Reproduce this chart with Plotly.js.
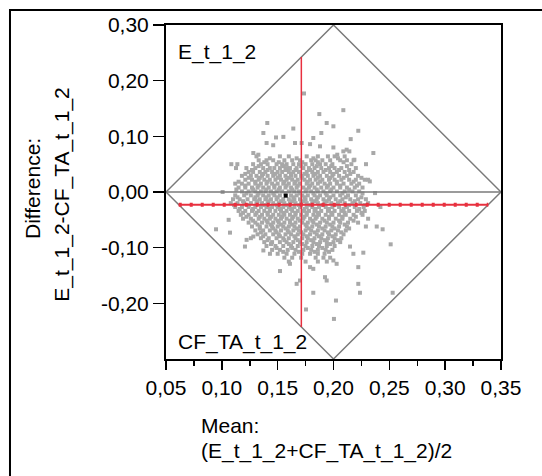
<!DOCTYPE html>
<html>
<head>
<meta charset="utf-8">
<script src="https://cdn.plot.ly/plotly-3.0.1.min.js"></script>
<style>
  html, body { margin: 0; padding: 0; background: #fff; overflow: hidden; }
  #chart { width: 542px; height: 476px; }
</style>
</head>
<body>
<div id="chart"></div>
<script>
// ---- Data ----
// Core of the cloud: one row of means per difference level
const rowDiffs = [0.064, 0.057, 0.050, 0.043, 0.036, 0.029, 0.022, 0.015, 0.008, 0.001,
  -0.006, -0.013, -0.020, -0.027, -0.034, -0.041, -0.048, -0.055, -0.062, -0.069,
  -0.076, -0.083, -0.090, -0.097, -0.104, -0.111, -0.118, -0.125];
const rowMeans = [
  [0.131, 0.152, 0.160, 0.176, 0.186, 0.195, 0.201, 0.210],
  [0.133, 0.140, 0.146, 0.156, 0.163, 0.170, 0.180, 0.184, 0.190, 0.197, 0.206, 0.212, 0.218],
  [0.128, 0.135, 0.141, 0.149, 0.154, 0.158, 0.164, 0.169, 0.175, 0.181, 0.188, 0.193, 0.199, 0.216],
  [0.122, 0.130, 0.137, 0.143, 0.147, 0.152, 0.158, 0.161, 0.167, 0.173, 0.178, 0.183, 0.189, 0.196, 0.201, 0.207, 0.220],
  [0.124, 0.128, 0.134, 0.139, 0.145, 0.150, 0.154, 0.160, 0.164, 0.169, 0.176, 0.181, 0.186, 0.191, 0.197, 0.203, 0.210, 0.218],
  [0.118, 0.126, 0.131, 0.136, 0.141, 0.146, 0.152, 0.157, 0.162, 0.166, 0.171, 0.177, 0.182, 0.188, 0.194, 0.199, 0.205, 0.212, 0.222],
  [0.121, 0.127, 0.133, 0.138, 0.143, 0.148, 0.153, 0.158, 0.163, 0.168, 0.174, 0.179, 0.184, 0.190, 0.196, 0.201, 0.207, 0.214, 0.220, 0.228],
  [0.112, 0.118, 0.124, 0.130, 0.135, 0.140, 0.145, 0.150, 0.155, 0.160, 0.165, 0.170, 0.176, 0.181, 0.186, 0.192, 0.197, 0.203, 0.209, 0.216, 0.223],
  [0.115, 0.121, 0.127, 0.132, 0.137, 0.142, 0.147, 0.152, 0.157, 0.162, 0.167, 0.173, 0.178, 0.183, 0.189, 0.194, 0.200, 0.206, 0.212, 0.219, 0.226],
  [0.118, 0.124, 0.130, 0.135, 0.139, 0.144, 0.149, 0.154, 0.160, 0.165, 0.169, 0.175, 0.180, 0.186, 0.191, 0.197, 0.203, 0.210, 0.217, 0.223],
  [0.112, 0.120, 0.126, 0.132, 0.137, 0.142, 0.147, 0.152, 0.162, 0.167, 0.172, 0.177, 0.183, 0.188, 0.194, 0.200, 0.206, 0.213, 0.220],
  [0.110, 0.116, 0.123, 0.129, 0.134, 0.139, 0.144, 0.149, 0.155, 0.160, 0.165, 0.170, 0.175, 0.180, 0.185, 0.191, 0.196, 0.202, 0.208, 0.215, 0.222, 0.229],
  [0.108, 0.114, 0.120, 0.126, 0.131, 0.136, 0.141, 0.146, 0.151, 0.156, 0.161, 0.166, 0.171, 0.176, 0.181, 0.186, 0.192, 0.198, 0.204, 0.210, 0.217, 0.224, 0.231],
  [0.112, 0.118, 0.124, 0.130, 0.135, 0.140, 0.145, 0.150, 0.155, 0.160, 0.165, 0.170, 0.176, 0.181, 0.187, 0.193, 0.199, 0.205, 0.212, 0.219, 0.227, 0.242],
  [0.115, 0.121, 0.127, 0.133, 0.138, 0.143, 0.148, 0.153, 0.158, 0.163, 0.168, 0.173, 0.178, 0.183, 0.189, 0.195, 0.201, 0.207, 0.214, 0.221, 0.228],
  [0.117, 0.124, 0.130, 0.136, 0.141, 0.146, 0.151, 0.156, 0.161, 0.166, 0.171, 0.176, 0.182, 0.187, 0.193, 0.199, 0.205, 0.211, 0.218, 0.226],
  [0.119, 0.126, 0.133, 0.138, 0.143, 0.148, 0.153, 0.158, 0.163, 0.168, 0.173, 0.179, 0.184, 0.190, 0.196, 0.202, 0.208, 0.215, 0.231],
  [0.124, 0.130, 0.136, 0.141, 0.146, 0.151, 0.156, 0.161, 0.166, 0.172, 0.177, 0.182, 0.188, 0.194, 0.200, 0.206, 0.213, 0.222],
  [0.127, 0.134, 0.140, 0.145, 0.150, 0.155, 0.160, 0.165, 0.170, 0.176, 0.181, 0.187, 0.193, 0.199, 0.205, 0.212, 0.229],
  [0.130, 0.137, 0.143, 0.148, 0.153, 0.159, 0.164, 0.169, 0.175, 0.180, 0.186, 0.192, 0.198, 0.204, 0.211],
  [0.132, 0.139, 0.146, 0.151, 0.157, 0.162, 0.168, 0.173, 0.179, 0.185, 0.190, 0.196, 0.202, 0.209],
  [0.126, 0.135, 0.142, 0.149, 0.155, 0.160, 0.166, 0.172, 0.177, 0.183, 0.189, 0.195, 0.201, 0.207],
  [0.138, 0.145, 0.152, 0.158, 0.164, 0.170, 0.176, 0.182, 0.188, 0.194, 0.200, 0.206],
  [0.140, 0.148, 0.155, 0.162, 0.168, 0.175, 0.181, 0.187, 0.194, 0.201],
  [0.145, 0.152, 0.159, 0.166, 0.173, 0.180, 0.186, 0.193, 0.199],
  [0.150, 0.158, 0.165, 0.172, 0.179, 0.186, 0.192],
  [0.156, 0.163, 0.171, 0.184, 0.191, 0.197],
  [0.160, 0.175, 0.186, 0.194]
];
// In-between rows of the core
const halfRowDiffs = [0.0605, 0.0535, 0.0465, 0.0395, 0.0325, 0.0255, 0.0185, 0.0115, 0.0045,
  -0.0025, -0.0095, -0.0165, -0.0235, -0.0305, -0.0375, -0.0445, -0.0515, -0.0585, -0.0655,
  -0.0725, -0.0795, -0.0865, -0.0935, -0.1005, -0.1075];
const halfRowMeans = [
  [0.143, 0.167, 0.182, 0.204],
  [0.138, 0.151, 0.172, 0.186, 0.209],
  [0.133, 0.155, 0.171, 0.185, 0.198, 0.212],
  [0.127, 0.141, 0.157, 0.166, 0.179, 0.193, 0.205, 0.214],
  [0.121, 0.137, 0.148, 0.162, 0.174, 0.184, 0.200, 0.215],
  [0.124, 0.134, 0.150, 0.160, 0.172, 0.186, 0.197, 0.209, 0.225],
  [0.115, 0.130, 0.141, 0.156, 0.166, 0.177, 0.188, 0.203, 0.218],
  [0.121, 0.133, 0.147, 0.158, 0.168, 0.179, 0.195, 0.206, 0.221],
  [0.113, 0.128, 0.140, 0.151, 0.163, 0.176, 0.185, 0.198, 0.214],
  [0.122, 0.133, 0.146, 0.157, 0.170, 0.182, 0.193, 0.208, 0.226],
  [0.114, 0.130, 0.140, 0.150, 0.164, 0.174, 0.186, 0.197, 0.211, 0.225],
  [0.119, 0.132, 0.142, 0.153, 0.163, 0.173, 0.183, 0.194, 0.206, 0.219],
  [0.111, 0.124, 0.138, 0.149, 0.158, 0.169, 0.179, 0.190, 0.201, 0.214, 0.228],
  [0.116, 0.128, 0.143, 0.152, 0.162, 0.174, 0.184, 0.196, 0.209, 0.223],
  [0.119, 0.131, 0.141, 0.155, 0.166, 0.176, 0.186, 0.198, 0.210, 0.225],
  [0.122, 0.134, 0.144, 0.154, 0.164, 0.174, 0.185, 0.196, 0.208, 0.220],
  [0.128, 0.140, 0.150, 0.161, 0.170, 0.181, 0.192, 0.205, 0.218],
  [0.132, 0.144, 0.153, 0.163, 0.175, 0.185, 0.197, 0.210],
  [0.134, 0.146, 0.157, 0.167, 0.178, 0.190, 0.201, 0.214],
  [0.135, 0.149, 0.160, 0.171, 0.183, 0.195, 0.207],
  [0.137, 0.152, 0.165, 0.176, 0.187, 0.199],
  [0.141, 0.156, 0.168, 0.180, 0.192, 0.204],
  [0.144, 0.160, 0.172, 0.185, 0.197],
  [0.149, 0.163, 0.177, 0.190],
  [0.155, 0.169, 0.183, 0.196]
];
// Scattered points around the core
const outMeans = [0.1736, 0.2088, 0.1873, 0.1939, 0.1999, 0.1407, 0.1640, 0.2222, 0.1891, 0.1372,
  0.1485, 0.1551, 0.2154, 0.1819, 0.1401, 0.1460, 0.1655, 0.1715, 0.1790, 0.1879,
  0.1999, 0.2118, 0.2142, 0.2357, 0.1282, 0.1327, 0.2034, 0.2088, 0.1085, 0.1139,
  0.1127, 0.2291, 0.2187, 0.2310, 0.2325, 0.2372, 0.1007, 0.0948, 0.1073, 0.1061,
  0.1222, 0.1207, 0.1282, 0.2512, 0.2440, 0.2387, 0.2267, 0.2222, 0.2222, 0.2237,
  0.2530, 0.2022, 0.2004, 0.1754, 0.1819, 0.1670, 0.1700, 0.1521, 0.1924, 0.1939,
  0.1790, 0.1819, 0.1610, 0.1372, 0.1431, 0.2028, 0.1999, 0.2178, 0.2148];
const outDiffs = [0.177, 0.147, 0.140, 0.124, 0.118, 0.124, 0.114, 0.110, 0.106, 0.106,
  0.098, 0.099, 0.095, 0.097, 0.088, 0.084, 0.088, 0.088, 0.086, 0.082,
  0.080, 0.076, 0.073, 0.070, 0.070, 0.067, 0.067, 0.073, 0.050, 0.050,
  0.043, 0.050, 0.058, 0.022, 0.019, -0.002, 0.000, -0.067, -0.073, -0.050,
  -0.086, -0.098, -0.080, -0.094, -0.067, -0.062, -0.109, -0.135, -0.165, -0.181,
  -0.181, -0.195, -0.228, -0.211, -0.181, -0.165, -0.159, -0.142, -0.153, -0.159,
  -0.135, -0.138, -0.129, -0.105, -0.111, -0.129, -0.123, -0.111, -0.098];
// Summary values
const centerPoint = [0.1572, -0.0066];
const meanDifference = -0.0228;
const meanOfMeans = 0.1712;
// Axis ranges and ticks
const xRange = [0.05, 0.35];
const yRange = [-0.30, 0.30];
const xTickVals = [0.05, 0.10, 0.15, 0.20, 0.25, 0.30, 0.35];
const xTickText = ['0,05', '0,10', '0,15', '0,20', '0,25', '0,30', '0,35'];
const xMinorVals = [0.075, 0.125, 0.175, 0.225, 0.275, 0.325];
const yTickVals = [-0.20, -0.10, 0.00, 0.10, 0.20, 0.30];
const yTickText = ['-0,20', '-0,10', '0,00', '0,10', '0,20', '0,30'];

// ---- Build traces ----
const px = [], py = [];
rowMeans.forEach((row, i) => row.forEach(m => { px.push(m); py.push(rowDiffs[i]); }));
halfRowMeans.forEach((row, i) => row.forEach(m => { px.push(m); py.push(halfRowDiffs[i]); }));
outMeans.forEach((m, i) => { px.push(m); py.push(outDiffs[i]); });

// diamond bounding region (mean range vs. possible difference)
const xMid = (xRange[0] + xRange[1]) / 2;
const halfH = yRange[1];
const slope = halfH / (xMid - xRange[0]);
const diamondX = [xRange[0], xMid, xRange[1], xMid, xRange[0]];
const diamondY = [0, halfH, 0, -halfH, 0];
const hx0 = xRange[0] + Math.abs(meanDifference) / slope;
const hx1 = xRange[1] - Math.abs(meanDifference) / slope;
const vyTop = halfH - slope * Math.abs(meanOfMeans - xMid);

const GRAY_LINE = '#7a7a7a';
const RED = '#e8303f';
const FONT = 'Liberation Sans, Arial, sans-serif';

const traces = [
  { x: px, y: py, type: 'scatter', mode: 'markers', hoverinfo: 'x+y',
    marker: { symbol: 'square', size: 4, color: '#a8a8a8', line: { width: 0 } } },
  { x: [centerPoint[0]], y: [centerPoint[1]], type: 'scatter', mode: 'markers',
    marker: { symbol: 'square', size: 4, color: '#000', line: { width: 0 } } },
  { x: diamondX, y: diamondY, type: 'scatter', mode: 'lines', hoverinfo: 'skip',
    line: { color: GRAY_LINE, width: 1.5 } },
  { x: xRange, y: [0, 0], type: 'scatter', mode: 'lines', hoverinfo: 'skip',
    line: { color: GRAY_LINE, width: 1.5 } },
  { x: [hx0, hx1], y: [meanDifference, meanDifference], type: 'scatter', mode: 'lines', hoverinfo: 'skip',
    line: { color: RED, width: 2 } },
  { x: [hx0, hx1], y: [meanDifference, meanDifference], type: 'scatter', mode: 'lines', hoverinfo: 'skip',
    line: { color: RED, width: 4, dash: '3px,8px' } },
  { x: [meanOfMeans, meanOfMeans], y: [-vyTop, vyTop], type: 'scatter', mode: 'lines', hoverinfo: 'skip',
    line: { color: RED, width: 1.5 } }
];

const axisCommon = {
  showgrid: false, zeroline: false, showline: true, mirror: true,
  linecolor: '#000', linewidth: 2, ticks: 'outside', tickwidth: 1.5,
  tickcolor: '#000', tickmode: 'array', fixedrange: true,
  tickfont: { family: FONT, size: 21, color: '#000' }
};

const layout = {
  width: 542, height: 476,
  margin: { l: 166, r: 41, t: 25, b: 117, pad: 0 },
  paper_bgcolor: '#fff', plot_bgcolor: '#fff',
  showlegend: false,
  font: { family: FONT, size: 20, color: '#000' },
  xaxis: Object.assign({}, axisCommon, {
    range: xRange, tickvals: xTickVals, ticktext: xTickText, ticklen: 9,
    minor: { tickmode: 'array', tickvals: xMinorVals, ticks: 'outside', ticklen: 5, tickwidth: 1.5, tickcolor: '#000' }
  }),
  yaxis: Object.assign({}, axisCommon, {
    range: yRange, tickvals: yTickVals, ticktext: yTickText, ticklen: 11
  }),
  shapes: [
    { type: 'rect', xref: 'paper', yref: 'paper', x0: -0.4657, x1: 1.4, y0: -0.6, y1: 1.0449,
      line: { color: '#000', width: 2 }, fillcolor: 'rgba(0,0,0,0)', layer: 'below' }
  ],
  annotations: [
    { text: 'E_t_1_2', xref: 'paper', yref: 'paper', x: 0.03, y: 0.919, xanchor: 'left', yanchor: 'middle',
      showarrow: false, font: { family: FONT, size: 21, color: '#000' } },
    { text: 'CF_TA_t_1_2', xref: 'paper', yref: 'paper', x: 0.03, y: 0.051, xanchor: 'left', yanchor: 'middle',
      showarrow: false, font: { family: FONT, size: 21, color: '#000' } },
    { text: 'Mean:', xref: 'paper', yref: 'paper', x: 0.0985, y: -0.2, xanchor: 'left', yanchor: 'middle',
      showarrow: false, font: { family: FONT, size: 21, color: '#000' } },
    { text: '(E_t_1_2+CF_TA_t_1_2)/2', xref: 'paper', yref: 'paper', x: 0.0985, y: -0.275, xanchor: 'left', yanchor: 'middle',
      showarrow: false, font: { family: FONT, size: 21, color: '#000' } },
    { text: 'Difference:', xref: 'paper', yref: 'paper', x: -0.397, y: 0.509, xanchor: 'center', yanchor: 'middle',
      textangle: -90, showarrow: false, font: { family: FONT, size: 21, color: '#000' } },
    { text: 'E_t_1_2-CF_TA_t_1_2', xref: 'paper', yref: 'paper', x: -0.313, y: 0.4925, xanchor: 'center', yanchor: 'middle',
      textangle: -90, showarrow: false, font: { family: FONT, size: 21, color: '#000' } }
  ]
};

Plotly.newPlot('chart', traces, layout, { displayModeBar: false, staticPlot: true });
</script>
</body>
</html>
